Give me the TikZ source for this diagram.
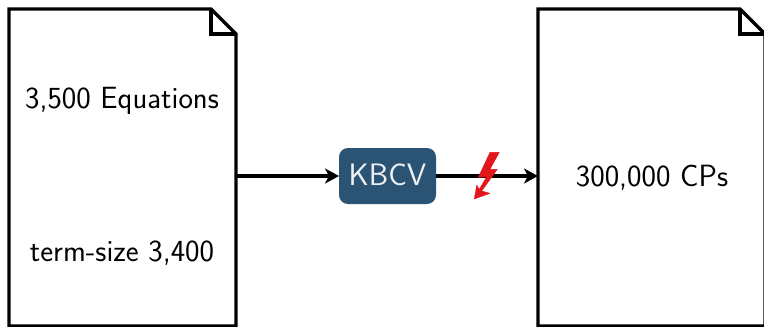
\documentclass[tikz,border=0pt]{standalone}
\usepackage{fontspec}
\setmainfont{Latin Modern Sans}
\usetikzlibrary{arrows.meta}
\definecolor{boxblue}{HTML}{2B5374}
\definecolor{boltred}{HTML}{E2171C}
\tikzset{
  x=1pt,y=-1pt,
  docframe/.style={draw=none,fill=none,minimum width=227pt,minimum height=317pt,inner sep=0pt,outer sep=0pt},
  docline/.style={draw=black,line width=3.2pt,line join=miter},
  foldline/.style={draw=black,line width=3.2pt,line join=miter},
  doctext/.style={font=\fontsize{30.7}{36}\selectfont,inner sep=0pt,text=black},
  procbox/.style={fill=boxblue,rounded corners=9pt,minimum width=97pt,minimum height=56pt,inner sep=0pt,outer sep=0pt},
  proctext/.style={text=white!92!boxblue,inner sep=0pt,font=\fontsize{31}{36}\selectfont},
  flow/.style={draw=black,line width=3.2pt,-{Stealth[length=14pt,width=15pt,inset=4pt]}},
}
\begin{document}
\begin{tikzpicture}
\useasboundingbox (0,0) rectangle (764,327);
\clip (0,0) rectangle (764,327);
\node[docframe] (a) at (122.5,167.5) {};
\node[docframe] (b) at (651.5,167.5) {};
\draw[docline] (a.south west) -- (a.north west) -- ([xshift=-25pt]a.north east) -- ([yshift=-25pt]a.north east) -- (a.south east) -- cycle;
\draw[foldline] ([xshift=-25pt]a.north east) -- ([xshift=-25pt,yshift=-25pt]a.north east) -- ([yshift=-25pt]a.north east);
\draw[docline] (b.south west) -- (b.north west) -- ([xshift=-25pt]b.north east) -- ([yshift=-25pt]b.north east) -- (b.south east) -- cycle;
\draw[foldline] ([xshift=-25pt]b.north east) -- ([xshift=-25pt,yshift=-25pt]b.north east) -- ([yshift=-25pt]b.north east);
\node[doctext] (eq) at (122,101) {3,500 Equations};
\node[doctext] (ts) at (122,253) {term-size 3,400};
\node[doctext] (cp) at (652,178) {300,000 CPs};
\node[procbox] (k) at (387.5,176) {};
\node[proctext] (kt) at (387.5,174.5) {KBCV};
\coordinate (aout) at (a.east |- k.west);
\coordinate (bin) at (b.west |- k.east);
\draw[flow] (aout) -- (k.west);
\draw[flow] (k.east) -- (bin);
\filldraw[boltred,line width=0.4pt,line join=round] (490,152.3) -- (499.3,152.3) -- (490,169.3) -- (497.3,169.3) -- (481.7,191) -- (490,193.3) -- (474.3,199) -- (476.7,185) -- (479.3,189.3) -- (486.7,176.7) -- (478.3,177.3) -- cycle;
\end{tikzpicture}
\end{document}
